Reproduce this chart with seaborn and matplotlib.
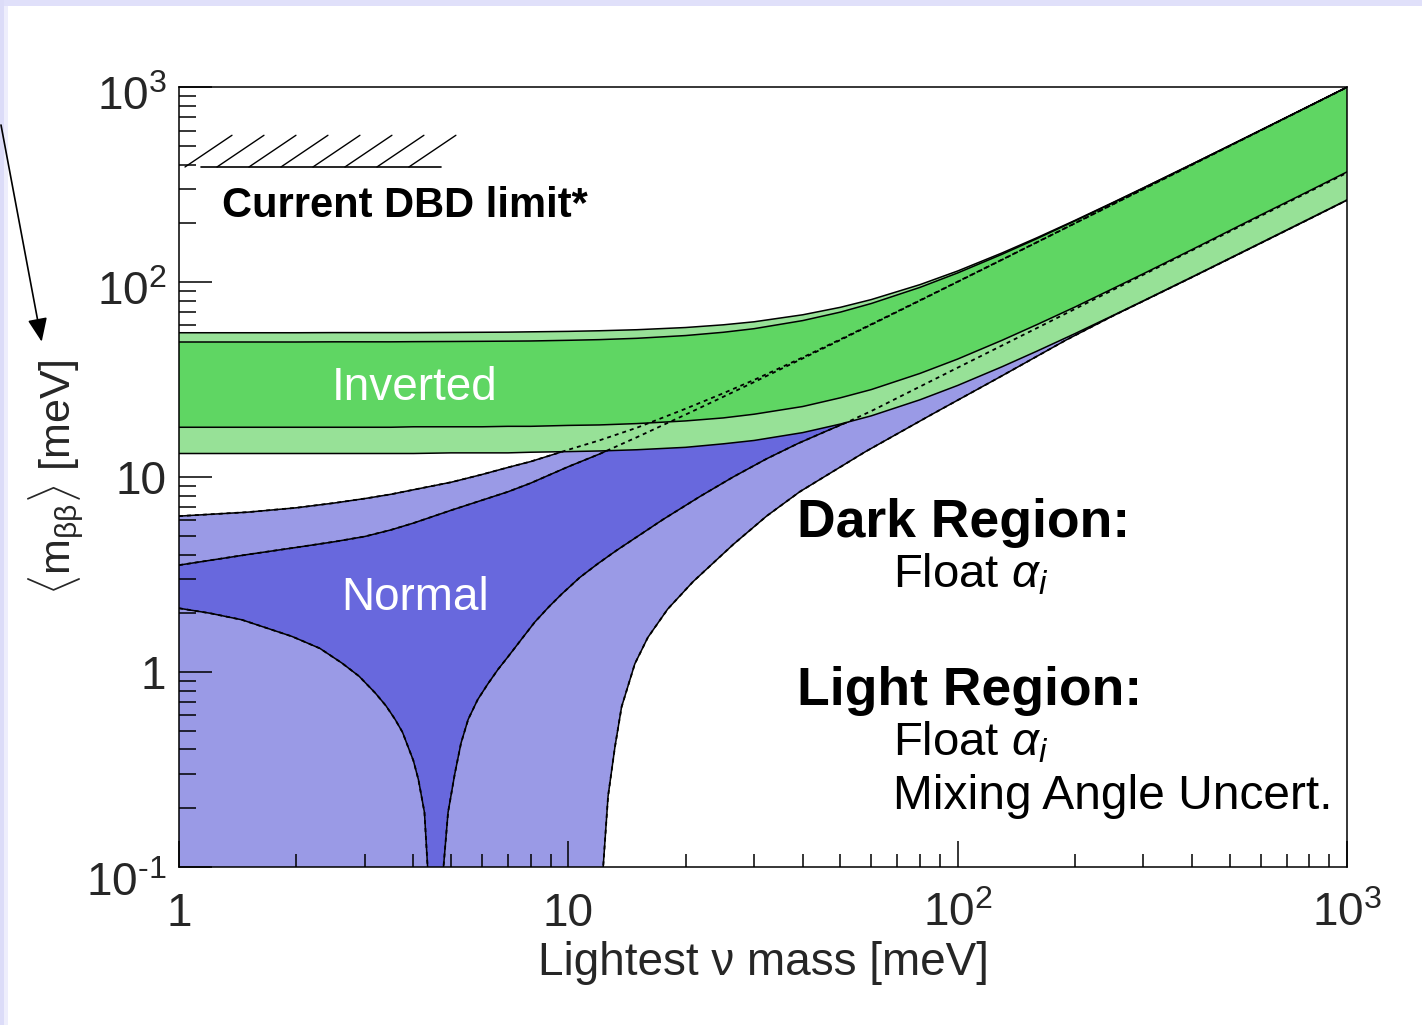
import matplotlib
matplotlib.use("Agg")
import matplotlib.pyplot as plt
import matplotlib.transforms as mtransforms
import pandas as pd
import seaborn as sns
from matplotlib.patches import Rectangle
from matplotlib.ticker import FixedLocator, FixedFormatter, LogLocator, NullFormatter

# ---------------------------------------------------------------- data (meV)
mass = [1, 1.5, 2, 2.5, 3, 3.5, 4, 5, 6, 7, 8, 10, 12, 15, 20, 25, 30, 40, 50, 60,
        80, 100, 130, 160, 200, 250, 300, 400, 500, 600, 800, 1000]

# inverted hierarchy band edges
ih_light_upper = [55.0, 55.0, 55.0, 55.1, 55.1, 55.1, 55.1, 55.2, 55.3, 55.4, 55.6, 55.9,
                  56.3, 57.0, 58.5, 60.4, 62.6, 68.0, 74.3, 81.4, 97.1, 114.1,
                  141.2, 169.2, 207.4, 256.0, 305.0, 403.8, 503.0, 602.5, 801.9, 1001.5]
ih_dark_upper = [49.3, 49.3, 49.3, 49.4, 49.4, 49.4, 49.5, 49.6, 49.7, 49.8, 49.9, 50.3,
                 50.7, 51.5, 53.2, 55.3, 57.7, 63.5, 70.2, 77.7, 94.0, 111.5,
                 139.0, 167.4, 206.0, 254.8, 304.0, 403.0, 502.4, 602.0, 801.5, 1001.2]
ih_dark_lower = [18.0, 18.0, 18.0, 18.0, 18.0, 18.0, 18.1, 18.1, 18.1, 18.2, 18.2, 18.4,
                 18.5, 18.8, 19.4, 20.1, 21.0, 23.0, 25.5, 28.1, 34.0, 40.3,
                 50.3, 60.6, 74.5, 92.5, 110.5, 147.0, 184.0, 221.0, 294.0, 368.0]
ih_light_lower = [13.2, 13.2, 13.2, 13.2, 13.2, 13.2, 13.2, 13.3, 13.3, 13.3, 13.4, 13.5,
                  13.6, 13.8, 14.2, 14.8, 15.4, 16.9, 18.7, 20.6, 24.9, 29.5,
                  36.8, 44.3, 54.4, 67.3, 80.3, 106.4, 132.7, 159.0, 211.6, 264.3]

# normal hierarchy band edges
nh_light_upper = [6.3, 6.6, 6.95, 7.35, 7.75, 8.15, 8.6, 9.4, 10.3, 11.2, 12.0, 13.8,
                  15.4, 17.9, 22.4, 26.9, 31.5, 41.1, 50.9, 60.8, 80.7, 100.6,
                  130.5, 160.5, 200.5, 250.5, 300.4, 400.4, 500.4, 600.3, 800.3, 1000.3]
nh_dark_upper = [3.53, 4.0, 4.35, 4.65, 4.95, 5.35, 5.8, 6.75, 7.6, 8.4, 9.3, 11.3,
                 13.1, 16.0, 20.9, 25.8, 30.7, 40.6, 50.5, 60.5, 80.4, 100.4,
                 130.3, 160.3, 200.3, 250.3, 300.2, 400.2, 500.2, 600.2, 800.2, 1000.2]

nh_dark_lower_left_m = [1, 1.2, 1.45, 1.95, 2.3, 2.62, 2.9, 3.19, 3.4, 3.59, 3.75,
                        3.88, 4.0, 4.12, 4.27, 4.35, 4.40]
nh_dark_lower_left = [2.12, 2.0, 1.85, 1.52, 1.32, 1.11, 0.95, 0.78, 0.67, 0.57, 0.49,
                      0.41, 0.35, 0.28, 0.19, 0.10, 0.03]
nh_dark_lower_right_m = [4.65, 4.78, 4.91, 5.11, 5.3, 5.53, 5.85, 6.22, 6.6, 7.01, 7.6,
                         8.2, 8.9, 9.6, 10.7, 11.93, 13.3, 14.82, 17.5, 21.8, 26.5,
                         32.3, 39, 46, 52, 60, 80, 100, 130, 160,
                         200, 250, 300, 400, 500, 600, 800, 1000]
nh_dark_lower_right = [0.03, 0.10, 0.19, 0.30, 0.43, 0.57, 0.72, 0.87, 1.03, 1.20, 1.48,
                       1.80, 2.15, 2.50, 3.05, 3.60, 4.20, 4.85, 6.05, 7.95, 10.0,
                       12.4, 14.9, 17.2, 19.1, 21.8, 29.1, 36.4, 47.3, 58.2,
                       72.8, 91.0, 109.2, 145.6, 182.0, 218.4, 291.2, 364.0]

nh_light_lower_m = [1, 12.2, 12.29, 12.65, 13.17, 13.7, 14.82, 16, 18, 20.9, 26.5,
                    32.3, 39.3, 58, 86, 128, 190, 250, 300, 400, 500, 600, 800, 1000]
nh_light_lower = [0.03, 0.03, 0.10, 0.23, 0.41, 0.66, 1.10, 1.50, 2.10, 2.90, 4.50,
                  6.30, 8.40, 13.5, 21.0, 32.5, 50.5, 67.0, 80.0, 106.0, 132.2, 158.4,
                  210.8, 263.5]

dbd_limit = 390          # current double-beta-decay bound
dbd_span = [1.14, 4.71]  # extent of the limit marker

xtick_values = [1, 10, 100, 1000]
xtick_labels = ["1", "10", r"$\mathregular{10^{2}}$", r"$\mathregular{10^{3}}$"]
ytick_values = [0.1, 1, 10, 100, 1000]
ytick_labels = [r"$\mathregular{10^{\text{-}1}}$", "1", "10",
                r"$\mathregular{10^{2}}$", r"$\mathregular{10^{3}}$"]
ytick_drop_pt = [8.6, 0, 0, 4.3, 4.3]   # baseline drop for labels with exponents

# ---------------------------------------------------------------- style
sns.set_theme(style="white", rc={"axes.edgecolor": "black", "axes.linewidth": 1.1})
plt.rcParams["font.family"] = ["Liberation Sans", "DejaVu Sans"]
plt.rcParams["mathtext.fontset"] = "custom"
plt.rcParams["mathtext.rm"] = "Liberation Sans"
plt.rcParams["mathtext.it"] = "Liberation Sans:italic"
plt.rcParams["mathtext.bf"] = "Liberation Sans:bold"

C_DGREEN = "#5FD663"
C_LGREEN = "#97E197"
C_LBLUE = "#9A9AE6"
C_DBLUE = "#6868DD"

fig = plt.figure(figsize=(14.22, 10.25), dpi=100)
fig.patch.set_facecolor("white")
ax = fig.add_axes([179 / 1422, 1 - 866.7 / 1025, 1168 / 1422, 779.4 / 1025])
ax.set_xscale("log")
ax.set_yscale("log")
ax.set_xlim(1, 1000)
ax.set_ylim(0.1, 1000)


def band(xu, yu, xl, yl, color, z):
    ax.fill(list(xu) + list(xl)[::-1], list(yu) + list(yl)[::-1],
            color=color, lw=0, zorder=z)


def curves(names_xy):
    rows = []
    for name, xs, ys in names_xy:
        rows += [{"curve": name, "m": x, "v": y} for x, y in zip(xs, ys)]
    return pd.DataFrame(rows)


# normal hierarchy
band(mass, nh_light_upper, nh_light_lower_m, nh_light_lower, C_LBLUE, 1)
band(mass, nh_dark_upper,
     nh_dark_lower_left_m + nh_dark_lower_right_m,
     nh_dark_lower_left + nh_dark_lower_right, C_DBLUE, 2)

nh_df = curves([
    ("nh_lu", mass, nh_light_upper),
    ("nh_du", mass, nh_dark_upper),
    ("nh_dll", nh_dark_lower_left_m, nh_dark_lower_left),
    ("nh_dlr", nh_dark_lower_right_m, nh_dark_lower_right),
    ("nh_ll", nh_light_lower_m[1:], nh_light_lower[1:]),
])
sns.lineplot(data=nh_df, x="m", y="v", units="curve", estimator=None, sort=False,
             color="black", lw=1.1, zorder=3, ax=ax, legend=False)

# inverted hierarchy
band(mass, ih_light_upper, mass, ih_light_lower, C_LGREEN, 4)
band(mass, ih_dark_upper, mass, ih_dark_lower, C_DGREEN, 4.5)
ih_df = curves([
    ("ih_lu", mass, ih_light_upper),
    ("ih_du", mass, ih_dark_upper),
    ("ih_dl", mass, ih_dark_lower),
    ("ih_ll", mass, ih_light_lower),
])
sns.lineplot(data=ih_df, x="m", y="v", units="curve", estimator=None, sort=False,
             color="black", lw=1.1, zorder=5, ax=ax, legend=False)

# normal-hierarchy edges seen through the inverted band
sns.lineplot(data=nh_df, x="m", y="v", units="curve", estimator=None, sort=False,
             color="black", lw=1.3, ls=(0, (2.2, 2.2)), zorder=6, ax=ax, legend=False)

# current limit marker with hatching
ax.plot(dbd_span, [dbd_limit, dbd_limit], color="black", lw=1.2, zorder=6)
step = 10 ** (32 / 389.5)
rise = 10 ** (47 / 389.5)
top = dbd_limit * 10 ** (31.7 / 194.85)
x0 = 10 ** (6 / 389.5)
for i in range(8):
    xb = x0 * step ** i
    ax.plot([xb, xb * rise], [dbd_limit, top], color="black", lw=1.0, zorder=6)

# ---------------------------------------------------------------- axes
ax.xaxis.set_major_locator(FixedLocator(xtick_values))
ax.xaxis.set_major_formatter(FixedFormatter(xtick_labels))
ax.xaxis.set_minor_locator(LogLocator(base=10, subs=range(2, 10), numticks=20))
ax.xaxis.set_minor_formatter(NullFormatter())
ax.yaxis.set_major_locator(FixedLocator(ytick_values))
ax.yaxis.set_major_formatter(FixedFormatter(ytick_labels))
ax.yaxis.set_minor_locator(LogLocator(base=10, subs=range(2, 10), numticks=20))
ax.yaxis.set_minor_formatter(NullFormatter())

ax.tick_params(which="both", direction="in", top=False, right=False,
               bottom=True, left=True, color="black", width=1.1)
ax.tick_params(axis="y", which="major", length=24, pad=9, labelsize=33)
ax.tick_params(axis="y", which="minor", length=12)
ax.tick_params(axis="x", which="major", length=19, pad=43, labelsize=33)
ax.tick_params(axis="x", which="minor", length=9.5)
for lab in ax.get_xticklabels():
    lab.set_va("baseline")
for lab, drop in zip(ax.get_yticklabels(), ytick_drop_pt):
    if drop:
        lab.set_transform(lab.get_transform() +
                          mtransforms.ScaledTranslation(0, -drop / 72, fig.dpi_scale_trans))
for spine in ax.spines.values():
    spine.set_zorder(8)
ax.set_axisbelow(False)

ax.set_xlabel("Lightest ν mass [meV]", fontsize=33, va="baseline")
ax.xaxis.set_label_coords(0.5, -0.139)
ax.set_ylabel(r"$\langle\mathrm{m}_{\mathrm{\beta\beta}}\rangle$ [meV]", fontsize=31)
ax.yaxis.set_label_coords(-0.0796, 0.5)

# ---------------------------------------------------------------- annotations
kw = dict(transform=ax.transAxes, ha="left", va="baseline", zorder=9)
ax.text(0.1307, 0.5988, "Inverted", color="white", fontsize=33, **kw)
ax.text(0.1393, 0.3293, "Normal", color="white", fontsize=33, **kw)
ax.text(0.0367, 0.834, "Current DBD limit*", color="black", fontsize=30,
        fontweight="bold", **kw)
ax.text(0.5294, 0.4234, "Dark Region:", color="black", fontsize=38.5,
        fontweight="bold", **kw)
ax.text(0.6113, 0.3576, r"Float $\alpha_i$", color="black", fontsize=34, **kw)
ax.text(0.5294, 0.2075, "Light Region:", color="black", fontsize=38.5,
        fontweight="bold", **kw)
ax.text(0.6116, 0.1421, r"Float $\alpha_i$", color="black", fontsize=34, **kw)
ax.text(0.6116, 0.0742, "Mixing Angle Uncert.", color="black", fontsize=34.5, **kw)

# slide frame and pointer arrow
fig.add_artist(Rectangle((0, 1 - 6 / 1025), 1, 6 / 1025, transform=fig.transFigure,
                         color="#E0E0FA", lw=0, zorder=0))
fig.add_artist(Rectangle((0, 0), 4 / 1422, 1, transform=fig.transFigure,
                         color="#DCDCF8", lw=0, zorder=0))
fig.add_artist(Rectangle((4 / 1422, 0), 4 / 1422, 1 - 6 / 1025, transform=fig.transFigure,
                         color="#EEEEFC", lw=0, zorder=0))
ax.annotate("", xy=(41.7 / 1422, 1 - 341.7 / 1025), xycoords="figure fraction",
            xytext=(1 / 1422, 1 - 125 / 1025), textcoords="figure fraction",
            arrowprops=dict(arrowstyle="-|>,head_length=1.2,head_width=0.5",
                            color="black", lw=1.2, shrinkA=0, shrinkB=0),
            annotation_clip=False)

fig.savefig("out.png", dpi=100)
